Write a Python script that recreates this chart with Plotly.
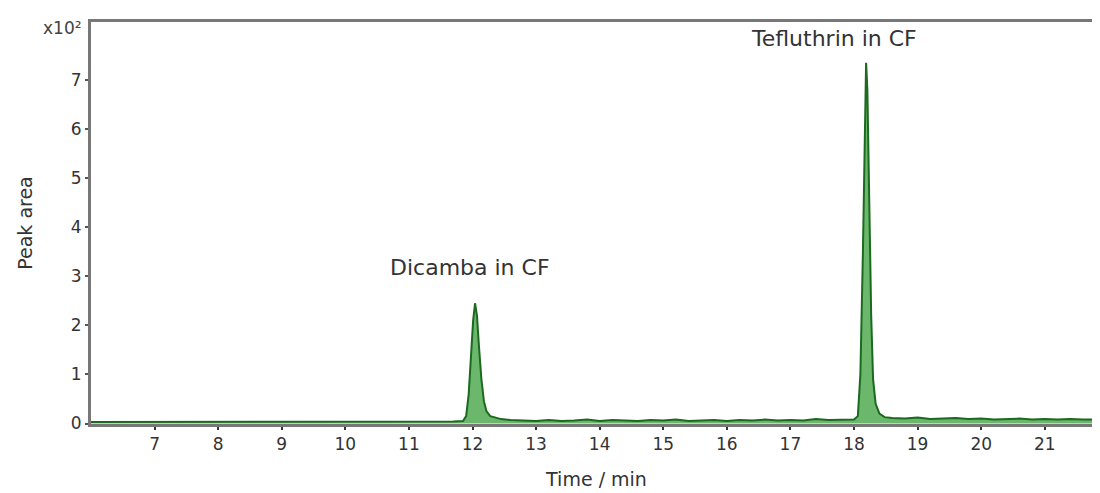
import plotly.graph_objects as go

# Retention time (min) and signal (x10^2 peak area units)
time_min = [
    6.0, 6.3, 6.6, 6.9, 7.2, 7.5, 7.8, 8.1, 8.4, 8.7, 9.0, 9.3, 9.6, 9.9,
    10.2, 10.5, 10.8, 11.1, 11.4, 11.7, 11.85,
    11.9, 11.94, 11.98, 12.01, 12.04, 12.07, 12.1, 12.14, 12.18, 12.22,
    12.28, 12.35, 12.45, 12.6,
    12.8, 13.0, 13.2, 13.4, 13.6, 13.8, 14.0, 14.2, 14.4, 14.6, 14.8,
    15.0, 15.2, 15.4, 15.6, 15.8, 16.0, 16.2, 16.4, 16.6, 16.8, 17.0,
    17.2, 17.4, 17.6, 17.8, 18.0,
    18.06, 18.1, 18.14, 18.17, 18.19, 18.21, 18.24, 18.27, 18.3, 18.34,
    18.4, 18.48, 18.6,
    18.8, 19.0, 19.2, 19.4, 19.6, 19.8, 20.0, 20.2, 20.4, 20.6, 20.8,
    21.0, 21.2, 21.4, 21.6, 21.9,
]
signal = [
    0.03, 0.03, 0.04, 0.03, 0.03, 0.04, 0.03, 0.03, 0.04, 0.03, 0.03, 0.04, 0.03, 0.04,
    0.03, 0.04, 0.03, 0.04, 0.04, 0.04, 0.05,
    0.15, 0.6, 1.4, 2.1, 2.45, 2.2, 1.6, 0.9, 0.45, 0.25,
    0.15, 0.12, 0.09, 0.07,
    0.06, 0.05, 0.07, 0.05, 0.06, 0.08, 0.05, 0.07, 0.06, 0.05, 0.07,
    0.06, 0.08, 0.05, 0.06, 0.07, 0.05, 0.07, 0.06, 0.08, 0.06, 0.07,
    0.06, 0.09, 0.07, 0.08, 0.08,
    0.15, 1.0, 3.5, 6.2, 7.35, 6.8, 4.5, 2.2, 0.9, 0.4,
    0.2, 0.13, 0.11,
    0.1, 0.12, 0.09, 0.1, 0.11, 0.09, 0.1, 0.08, 0.09, 0.1, 0.08,
    0.09, 0.08, 0.09, 0.08, 0.08,
]

peak_labels = ["Dicamba in CF", "Tefluthrin in CF"]
peak_label_x = [11.96, 17.68]
peak_label_y = [2.88, 7.55]

x_ticks = list(range(7, 22))
y_ticks = list(range(0, 8))

FONT = "DejaVu Sans, Arial, sans-serif"
TXT = "#333333"

fig = go.Figure()
fig.add_trace(go.Scatter(
    x=time_min, y=signal, mode="lines", fill="tozeroy",
    line=dict(color="#1b6a1f", width=2),
    fillcolor="rgba(70,165,70,0.8)",
    showlegend=False,
))

for lab, lx, ly in zip(peak_labels, peak_label_x, peak_label_y):
    fig.add_annotation(x=lx, y=ly, text=lab, showarrow=False,
                       font=dict(size=22, color=TXT, family=FONT),
                       xanchor="center", yanchor="bottom")

fig.add_annotation(xref="paper", yref="paper", x=-0.007, y=0.985, text="x10²",
                   showarrow=False, xanchor="right", yanchor="middle",
                   font=dict(size=17, color="#444444", family=FONT))

# the page body has a small margin; size the figure so the plot area lands where the reference has it
fig.update_layout(
    width=1094, height=487,
    margin=dict(l=83, r=0, t=14, b=71),
    paper_bgcolor="white", plot_bgcolor="white",
    font=dict(family=FONT, color=TXT),
)
fig.update_xaxes(
    range=[6.0, 21.9], tickvals=x_ticks, ticks="outside", ticklen=3, tickwidth=2,
    tickcolor="#333333", showline=True, linecolor="#777777", linewidth=3, mirror=True,
    showgrid=False, zeroline=False, tickfont=dict(size=17, color=TXT, family=FONT),
    title=dict(text="Time / min", font=dict(size=19, color=TXT, family=FONT), standoff=20),
)
fig.update_yaxes(
    range=[-0.01, 8.18], tickvals=y_ticks, ticks="outside", ticklen=3, tickwidth=2,
    tickcolor="#555555", showline=True, linecolor="#777777", linewidth=3, mirror=False,
    showgrid=False, zeroline=False, tickfont=dict(size=17, color=TXT, family=FONT),
    title=dict(text="Peak area", font=dict(size=19, color=TXT, family=FONT), standoff=34),
)

fig.write_html("out.html")
